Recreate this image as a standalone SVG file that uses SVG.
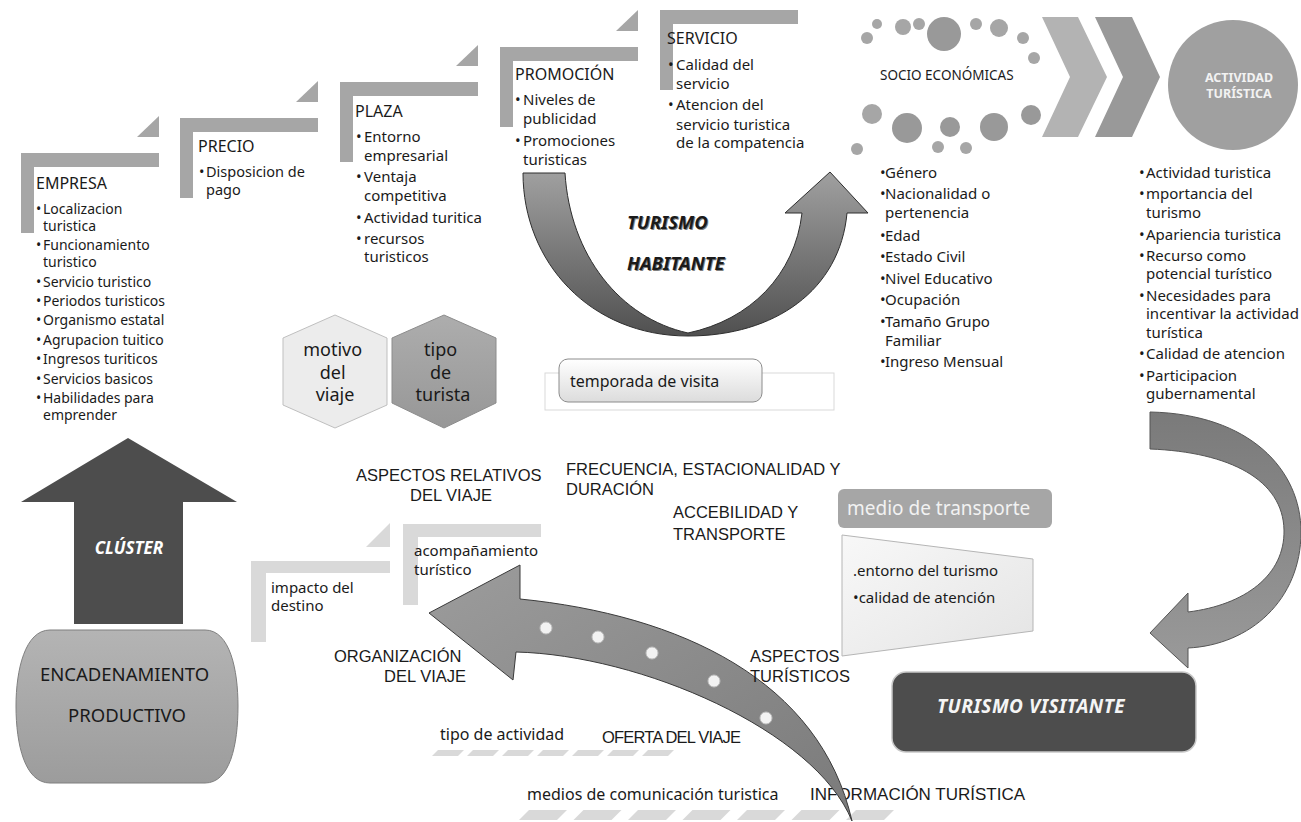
<svg xmlns="http://www.w3.org/2000/svg" width="1301" height="822" viewBox="0 0 1301 822">
  <defs>
    <style>
      .t{font-family:"Noto Sans","Liberation Sans",sans-serif;fill:#1a1a1a}
      .h{font-size:16px}
      .li{font-size:15px}
      .le{font-size:14px}
      .cap{font-family:"Liberation Sans",Arial,sans-serif;font-size:16.5px}
      .bi{font-weight:bold;font-style:italic}
      .br{fill:#a6a6a6}
      .brl{fill:#d9d9d9}
      .dot{fill:#a6a6a6}
      .dotd{fill:#999999}
      .stripe{fill:#d9d9d9}
      .bead{fill:#f2f2f2;stroke:#bfbfbf;stroke-width:1}
    </style>
    <linearGradient id="gU" x1="0" y1="0" x2="0" y2="1">
      <stop offset="0" stop-color="#a0a0a0"/>
      <stop offset="1" stop-color="#505050"/>
    </linearGradient>
    <linearGradient id="gOrg" x1="0" y1="0" x2="1" y2="1">
      <stop offset="0" stop-color="#9c9c9c"/>
      <stop offset="1" stop-color="#7a7a7a"/>
    </linearGradient>
    <linearGradient id="gVis" x1="0" y1="0" x2="0" y2="1">
      <stop offset="0" stop-color="#7a7a7a"/>
      <stop offset="1" stop-color="#9a9a9a"/>
    </linearGradient>
    <linearGradient id="gTemp" x1="0" y1="0" x2="0" y2="1">
      <stop offset="0" stop-color="#ffffff"/>
      <stop offset="1" stop-color="#dcdcdc"/>
    </linearGradient>
    <linearGradient id="gTrap" x1="0" y1="0" x2="1" y2="1">
      <stop offset="0" stop-color="#f8f8f8"/>
      <stop offset="1" stop-color="#e4e4e4"/>
    </linearGradient>
    <linearGradient id="gEnc" x1="0" y1="0" x2="0" y2="1">
      <stop offset="0" stop-color="#b4b4b4"/>
      <stop offset="1" stop-color="#9c9c9c"/>
    </linearGradient>
    <linearGradient id="gTipo" x1="0" y1="0" x2="0" y2="1">
      <stop offset="0" stop-color="#adadad"/>
      <stop offset="1" stop-color="#979797"/>
    </linearGradient>
  </defs>

  <rect width="1301" height="822" fill="#ffffff"/>

  <!-- information layer (under the big curved arrow) -->
  <g id="informacion">
    <g id="stripes-actividad">
      <polygon class="stripe" points="432,756 438,750 464,750 458,756"/>
      <polygon class="stripe" points="467,756 473,750 499,750 493,756"/>
      <polygon class="stripe" points="502,756 508,750 534,750 528,756"/>
      <polygon class="stripe" points="537,756 543,750 569,750 563,756"/>
      <polygon class="stripe" points="572,756 578,750 604,750 598,756"/>
      <polygon class="stripe" points="607,756 613,750 639,750 633,756"/>
      <polygon class="stripe" points="642,756 648,750 674,750 668,756"/>
    </g>
    <g id="stripes-medios">
      <polygon class="stripe" points="519,820 529,810 567,810 557,820"/>
      <polygon class="stripe" points="573.5,820 583.5,810 621.5,810 611.5,820"/>
      <polygon class="stripe" points="628,820 638,810 676,810 666,820"/>
      <polygon class="stripe" points="682.5,820 692.5,810 730.5,810 720.5,820"/>
      <polygon class="stripe" points="737,820 747,810 785,810 775,820"/>
      <polygon class="stripe" points="791.5,820 801.5,810 839.5,810 829.5,820"/>
      <polygon class="stripe" points="846,820 856,810 894,810 884,820"/>
    </g>
    <text class="t" x="440" y="740" font-size="16">tipo de actividad</text>
    <text class="t cap" x="602" y="743" letter-spacing="-0.8">OFERTA DEL VIAJE</text>
    <text class="t" x="527" y="800" font-size="16">medios de comunicación turistica</text>
    <text class="t cap" x="810" y="800" style="font-size:17px">INFORMACIÓN TURÍSTICA</text>
  </g>

  <!-- connectors -->
  <g id="connectors">
    <!-- turismo habitante U arrow -->
    <path d="M523,173 L565,173 C570,255 620,318 688,333 C750,320 795,275 802,213 L785,213 L830,172 L868,213 L847,213 C840,290 775,336 688,336 C590,336 523,262 523,173 Z" fill="url(#gU)" stroke="#2e2e2e" stroke-width="1"/>
    <!-- organizacion del viaje arrow -->
    <path d="M429,613 L520,565 L520,599 C680,615 820,680 852,821 C815,730 640,655 516,652 L513,680 Z" fill="url(#gOrg)" stroke="#3a3a3a" stroke-width="1"/>
    <circle class="bead" cx="546" cy="628" r="6"/>
    <circle class="bead" cx="598" cy="637" r="6"/>
    <circle class="bead" cx="652" cy="653" r="6"/>
    <circle class="bead" cx="714" cy="681" r="6"/>
    <circle class="bead" cx="766" cy="718" r="6"/>
    <!-- actividad -> turismo visitante arrow -->
    <path d="M1150,412 C1250,414 1301,470 1301,532 C1301,600 1250,645 1188,648 L1188,668 L1150,633 L1188,593 L1188,612 C1245,605 1285,575 1284,530 C1283,480 1230,452 1150,449 Z" fill="url(#gVis)" stroke="#555555" stroke-width="1"/>
    <!-- chevrons socio economicas -> actividad turistica -->
    <polygon points="1042,17 1078,17 1107,77 1078,137 1042,137 1070,77" fill="#b3b3b3"/>
    <polygon points="1095,17 1132,17 1160,77 1132,137 1095,137 1123,77" fill="#999999"/>
  </g>

  <!-- 4P steps -->
  <g id="empresa">
    <path class="br" d="M21,153 H159 V167 H34 V233 H21 Z"/>
    <polygon class="br" points="137,137 159,116 159,137"/>
    <text class="t h" x="36" y="189">EMPRESA</text>
    <text class="t le">
      <tspan x="36" y="214">•</tspan><tspan x="43">Localizacion</tspan>
      <tspan x="43" y="231">turistica</tspan>
      <tspan x="36" y="250">•</tspan><tspan x="43">Funcionamiento</tspan>
      <tspan x="43" y="267">turistico</tspan>
      <tspan x="36" y="287">•</tspan><tspan x="43">Servicio turistico</tspan>
      <tspan x="36" y="306">•</tspan><tspan x="43">Periodos turisticos</tspan>
      <tspan x="36" y="325">•</tspan><tspan x="43">Organismo estatal</tspan>
      <tspan x="36" y="345">•</tspan><tspan x="43">Agrupacion tuitico</tspan>
      <tspan x="36" y="364">•</tspan><tspan x="43">Ingresos turiticos</tspan>
      <tspan x="36" y="384">•</tspan><tspan x="43">Servicios basicos</tspan>
      <tspan x="36" y="403">•</tspan><tspan x="43">Habilidades para</tspan>
      <tspan x="43" y="420">emprender</tspan>
    </text>
  </g>

  <g id="precio">
    <path class="br" d="M180,118 H318 V132 H193 V198 H180 Z"/>
    <polygon class="br" points="296,102 318,81 318,102"/>
    <text class="t h" x="198" y="152">PRECIO</text>
    <text class="t" font-size="14.5">
      <tspan x="199" y="177">•</tspan><tspan x="206">Disposicion de</tspan>
      <tspan x="206" y="195">pago</tspan>
    </text>
  </g>

  <g id="plaza">
    <path class="br" d="M340,82 H478 V96 H353 V162 H340 Z"/>
    <polygon class="br" points="456,66 478,45 478,66"/>
    <text class="t h" x="355" y="117">PLAZA</text>
    <text class="t li">
      <tspan x="356" y="142">•</tspan><tspan x="364">Entorno</tspan>
      <tspan x="364" y="161">empresarial</tspan>
      <tspan x="356" y="182">•</tspan><tspan x="364">Ventaja</tspan>
      <tspan x="364" y="201">competitiva</tspan>
      <tspan x="356" y="223">•</tspan><tspan x="364">Actividad turitica</tspan>
      <tspan x="356" y="244">•</tspan><tspan x="364">recursos</tspan>
      <tspan x="364" y="262">turisticos</tspan>
    </text>
  </g>

  <g id="promocion">
    <path class="br" d="M500,47 H638 V61 H513 V127 H500 Z"/>
    <polygon class="br" points="616,31 638,10 638,31"/>
    <text class="t h" x="515" y="80">PROMOCIÓN</text>
    <text class="t li">
      <tspan x="515" y="105">•</tspan><tspan x="523">Niveles de</tspan>
      <tspan x="523" y="124">publicidad</tspan>
      <tspan x="515" y="146">•</tspan><tspan x="523">Promociones</tspan>
      <tspan x="523" y="165">turisticas</tspan>
    </text>
  </g>

  <g id="servicio">
    <path class="br" d="M660,10 H798 V24 H673 V90 H660 Z"/>
    <text class="t h" x="667" y="44">SERVICIO</text>
    <text class="t li">
      <tspan x="668" y="70">•</tspan><tspan x="676">Calidad del</tspan>
      <tspan x="676" y="89">servicio</tspan>
      <tspan x="668" y="110">•</tspan><tspan x="676">Atencion del</tspan>
      <tspan x="676" y="130">servicio turistica</tspan>
      <tspan x="676" y="148">de la compatencia</tspan>
    </text>
  </g>

  <!-- socio economicas -->
  <g id="socio-economicas">
    <circle class="dot" cx="877" cy="24" r="5"/>
    <circle class="dot" cx="867" cy="38" r="6"/>
    <circle class="dot" cx="903" cy="27" r="8"/>
    <circle class="dot" cx="919" cy="24" r="6"/>
    <circle class="dotd" cx="944" cy="34" r="17"/>
    <circle class="dot" cx="976" cy="24" r="6"/>
    <circle class="dot" cx="999" cy="28" r="9"/>
    <circle class="dot" cx="1023" cy="38" r="6"/>
    <circle class="dot" cx="1034" cy="58" r="6"/>
    <circle class="dotd" cx="1031" cy="115" r="10"/>
    <circle class="dotd" cx="994" cy="127" r="14"/>
    <circle class="dot" cx="966" cy="148" r="6"/>
    <circle class="dotd" cx="950" cy="127" r="10"/>
    <circle class="dot" cx="938" cy="147" r="6"/>
    <circle class="dotd" cx="907" cy="128" r="15"/>
    <circle class="dot" cx="872" cy="114" r="10"/>
    <circle class="dot" cx="857" cy="149" r="6"/>
    <text class="t" x="880" y="80" font-size="13.5">SOCIO ECONÓMICAS</text>
    <text class="t li">
      <tspan x="880" y="178">•</tspan><tspan x="885">Género</tspan>
      <tspan x="880" y="199">•</tspan><tspan x="885">Nacionalidad o</tspan>
      <tspan x="885" y="218">pertenencia</tspan>
      <tspan x="880" y="241">•</tspan><tspan x="885">Edad</tspan>
      <tspan x="880" y="262">•</tspan><tspan x="885">Estado Civil</tspan>
      <tspan x="880" y="284">•</tspan><tspan x="885">Nivel Educativo</tspan>
      <tspan x="880" y="305">•</tspan><tspan x="885">Ocupación</tspan>
      <tspan x="880" y="327">•</tspan><tspan x="885">Tamaño Grupo</tspan>
      <tspan x="885" y="346">Familiar</tspan>
      <tspan x="880" y="367">•</tspan><tspan x="885">Ingreso Mensual</tspan>
    </text>
  </g>

  <!-- actividad turistica -->
  <g id="actividad-turistica">
    <circle cx="1233" cy="85" r="65" fill="#a0a0a0"/>
    <text x="1239" y="82" text-anchor="middle" font-family="Noto Sans, Liberation Sans, sans-serif" font-size="12.5" font-weight="bold" fill="#f2f2f2">ACTIVIDAD</text>
    <text x="1239" y="98" text-anchor="middle" font-family="Noto Sans, Liberation Sans, sans-serif" font-size="12.5" font-weight="bold" fill="#f2f2f2">TURÍSTICA</text>
    <text class="t li">
      <tspan x="1139" y="178">•</tspan><tspan x="1146">Actividad turistica</tspan>
      <tspan x="1139" y="199">•</tspan><tspan x="1146">mportancia del</tspan>
      <tspan x="1146" y="218">turismo</tspan>
      <tspan x="1139" y="240">•</tspan><tspan x="1146">Apariencia turistica</tspan>
      <tspan x="1139" y="261">•</tspan><tspan x="1146">Recurso como</tspan>
      <tspan x="1146" y="279">potencial turístico</tspan>
      <tspan x="1139" y="301">•</tspan><tspan x="1146">Necesidades para</tspan>
      <tspan x="1146" y="319">incentivar la actividad</tspan>
      <tspan x="1146" y="338">turística</tspan>
      <tspan x="1139" y="359">•</tspan><tspan x="1146">Calidad de atencion</tspan>
      <tspan x="1139" y="381">•</tspan><tspan x="1146">Participacion</tspan>
      <tspan x="1146" y="399">gubernamental</tspan>
    </text>
  </g>

  <!-- turismo habitante label -->
  <g id="turismo-habitante">
    <text class="t bi" x="628" y="230" font-size="18.5" fill="#e0b040" opacity="0.55">TURISMO</text>
    <text class="t bi" x="627" y="229" font-size="18.5">TURISMO</text>
    <text class="t bi" x="628" y="271" font-size="18.5" fill="#e0b040" opacity="0.55">HABITANTE</text>
    <text class="t bi" x="627" y="270" font-size="18.5">HABITANTE</text>
  </g>

  <!-- hexagons -->
  <g id="motivo-del-viaje">
    <polygon points="335,315 387,338 387,405 335,428 283,405 283,338" fill="#ececec" stroke="#bfbfbf" stroke-width="1"/>
    <text class="t" text-anchor="middle" font-size="18" fill="#262626">
      <tspan x="335" y="356">motivo</tspan>
      <tspan x="335" y="379">del</tspan>
      <tspan x="335" y="401">viaje</tspan>
    </text>
  </g>
  <g id="tipo-de-turista">
    <polygon points="444,315 496,338 496,403 444,428 392,403 392,338" fill="url(#gTipo)" stroke="#8c8c8c" stroke-width="1"/>
    <text class="t" text-anchor="middle" font-size="18" fill="#262626">
      <tspan x="443" y="356">tipo</tspan>
      <tspan x="443" y="379">de</tspan>
      <tspan x="443" y="401">turista</tspan>
    </text>
  </g>

  <!-- temporada de visita -->
  <g id="temporada-de-visita">
    <rect x="545" y="373" width="289" height="37" fill="#ffffff" stroke="#d9d9d9" stroke-width="1"/>
    <rect x="559" y="359" width="203" height="43" rx="9" fill="url(#gTemp)" stroke="#8c8c8c" stroke-width="1"/>
    <text class="t" x="570" y="387" font-size="16">temporada de visita</text>
  </g>

  <!-- aspectos relativos del viaje -->
  <g id="aspectos-relativos">
    <text class="t cap" text-anchor="middle">
      <tspan x="451" y="481">ASPECTOS RELATIVOS</tspan>
      <tspan x="451" y="501">DEL VIAJE</tspan>
    </text>
  </g>
  <g id="frecuencia">
    <text class="t cap">
      <tspan x="566" y="475">FRECUENCIA, ESTACIONALIDAD Y</tspan>
      <tspan x="566" y="495">DURACIÓN</tspan>
    </text>
  </g>
  <g id="accesibilidad">
    <text class="t cap">
      <tspan x="673" y="518">ACCEBILIDAD Y</tspan>
      <tspan x="673" y="540">TRANSPORTE</tspan>
    </text>
  </g>

  <!-- lower brackets -->
  <g id="acompanamiento">
    <path class="brl" d="M403,524 H541 V537 H418 V605 H403 Z"/>
    <text class="t" font-size="15">
      <tspan x="414" y="556">acompañamiento</tspan>
      <tspan x="414" y="575">turístico</tspan>
    </text>
  </g>
  <g id="impacto-destino">
    <path class="brl" d="M251,561 H390 V573 H266 V642 H251 Z"/>
    <polygon class="brl" points="366,547 390,523 390,547"/>
    <text class="t" font-size="15">
      <tspan x="271" y="593">impacto del</tspan>
      <tspan x="271" y="611">destino</tspan>
    </text>
  </g>

  <g id="organizacion">
    <text class="t cap" text-anchor="end">
      <tspan x="466" y="662">ORGANIZACIÓN</tspan>
      <tspan x="466" y="682">DEL VIAJE</tspan>
    </text>
  </g>
  <g id="aspectos-turisticos">
    <text class="t cap">
      <tspan x="750" y="662">ASPECTOS</tspan>
      <tspan x="750" y="682">TURÍSTICOS</tspan>
    </text>
  </g>

  <!-- medio de transporte -->
  <g id="medio-transporte">
    <rect x="838" y="489" width="214" height="39" rx="6" fill="#a6a6a6"/>
    <text x="847" y="515" font-family="Noto Sans, Liberation Sans, sans-serif" font-size="19" fill="#f2f2f2">medio de transporte</text>
    <polygon points="842,535 1033,559 1033,631 842,656" fill="url(#gTrap)" stroke="#b5b5b5" stroke-width="1"/>
    <text class="t" font-size="15">
      <tspan x="853" y="576">.entorno del turismo</tspan>
      <tspan x="853" y="603">•calidad de atención</tspan>
    </text>
  </g>

  <!-- turismo visitante -->
  <g id="turismo-visitante">
    <rect x="892" y="672" width="304" height="80" rx="14" fill="#4d4d4d" stroke="#c8c8c8" stroke-width="1.5"/>
    <text x="937" y="713" font-family="Noto Sans, Liberation Sans, sans-serif" font-size="19" font-weight="bold" font-style="italic" letter-spacing="0.5" fill="#f5f5f5">TURISMO VISITANTE</text>
  </g>

  <!-- cluster block arrow -->
  <g id="cluster">
    <polygon points="128,438 237,502 183,502 183,624 74,624 74,502 21,502" fill="#4d4d4d"/>
    <text x="129" y="554" text-anchor="middle" font-family="Noto Sans, Liberation Sans, sans-serif" font-size="17" font-weight="bold" font-style="italic" fill="#ffffff">CLÚSTER</text>
  </g>

  <!-- encadenamiento productivo -->
  <g id="encadenamiento">
    <path d="M50,630 H205 C230,630 238,670 238,706 C238,745 230,783 205,783 H50 C25,783 16,745 16,706 C16,670 25,630 50,630 Z" fill="url(#gEnc)" stroke="#7f7f7f" stroke-width="1"/>
    <text class="t" text-anchor="middle" font-size="18.5">
      <tspan x="127" y="681">ENCADENAMIENTO</tspan>
      <tspan x="127" y="722">PRODUCTIVO</tspan>
    </text>
  </g>
</svg>
